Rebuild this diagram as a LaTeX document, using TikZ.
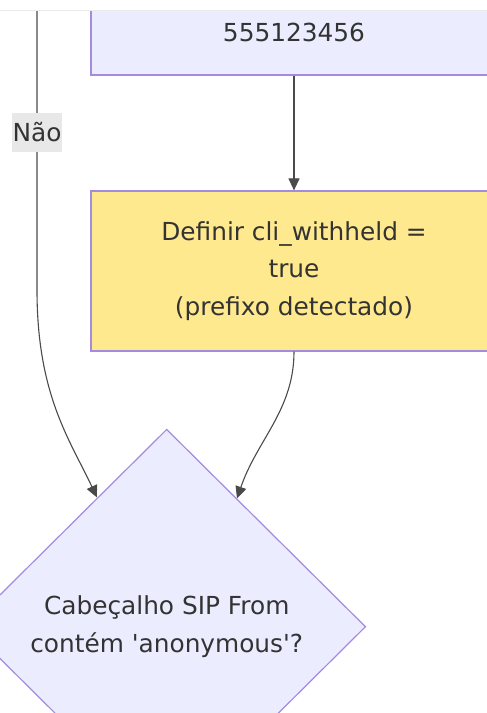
\documentclass[tikz,border=0pt]{standalone}
\usepackage{fontspec}
\setmainfont{DejaVu Sans}
\usetikzlibrary{shapes.geometric,arrows.meta}
\definecolor{boxfill}{HTML}{ECECFF}
\definecolor{boxline}{HTML}{A48BE0}
\definecolor{yelfill}{HTML}{FFE98F}
\definecolor{txt}{HTML}{333333}
\definecolor{edgecol}{HTML}{4A4A4A}
\definecolor{lblbg}{HTML}{E8E8E8}
\begin{document}
\begin{tikzpicture}[x=1pt,y=-1pt,
  every node/.style={font=\fontsize{24.8}{37.5}\selectfont, text=txt},
  procbox/.style={draw=boxline, line width=1.2pt, fill=boxfill, rectangle, inner sep=0pt, align=center},
  decision/.style={diamond, draw=boxline, line width=1.2pt, fill=boxfill, inner sep=0pt, align=center},
  conn/.style={draw=edgecol, line width=1.1pt, -{Triangle[length=12pt,width=11pt]}},
  edgelabel/.style={fill=lblbg, inner xsep=1pt, inner ysep=0pt, minimum height=39pt}
]
\useasboundingbox (0,0) rectangle (487,713);
\fill[white] (0,0) rectangle (487,713);

% nodes
\node[procbox, minimum width=406pt, minimum height=86pt] (num) at (294,32) {555123456};
\node[procbox, fill=yelfill, minimum width=406pt, minimum height=160pt] (setw) at (294,271)
  {Definir cli\_withheld =\\true\\(prefixo detectado)};
\node[decision, minimum width=398pt, minimum height=395pt] (dia) at (166.7,626.7)
  {Cabeçalho SIP From\\contém \textquotesingle anonymous\textquotesingle?};

% connectors
\coordinate (lt) at (37,0);
\coordinate (lb) at (37,290);
\coordinate (d1) at (97,497.5);
\coordinate (d2) at (237,498.5);
\draw[conn] (lt) -- (lb) .. controls (37,395) and (70,440) .. (d1);
\node[edgelabel] (nao) at (37,132) {Não};
\draw[conn] (num.south) -- (setw.north);
\draw[conn] (setw.south) .. controls (294,410) and (257,440) .. (d2);

% top band
\fill[white] (0,-5) rectangle (487,10);
\draw[black!8, line width=1.5pt] (0,10.5) -- (487,10.5);
\end{tikzpicture}
\end{document}
